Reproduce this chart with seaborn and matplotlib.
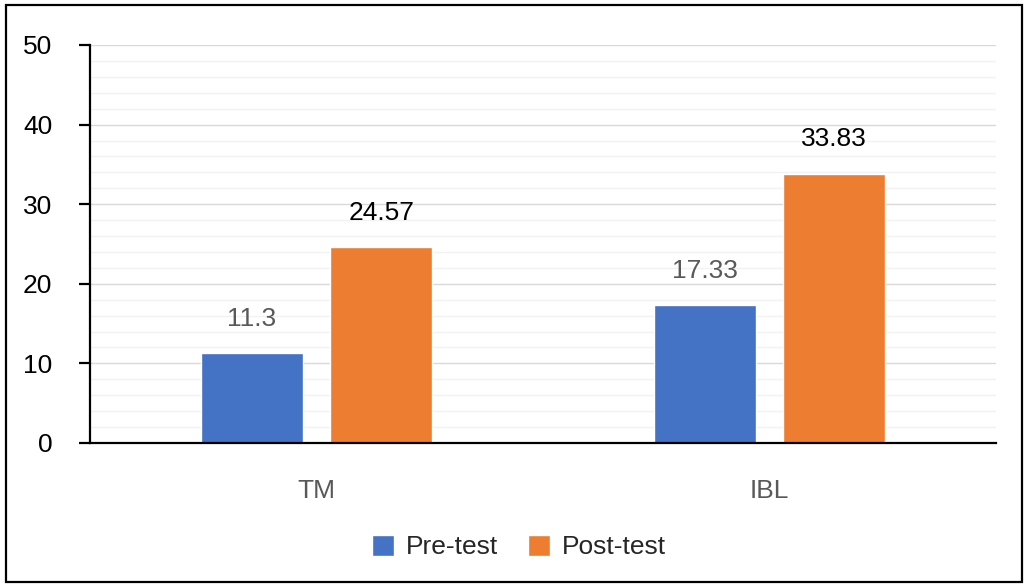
import matplotlib
matplotlib.use("Agg")
import matplotlib.pyplot as plt
from matplotlib.patches import Rectangle
import seaborn as sns
import pandas as pd

# Scores by teaching method
groups = ["TM", "IBL"]
tests = ["Pre-test", "Post-test"]
pre_scores = [11.3, 17.33]
post_scores = [24.57, 33.83]
y_ticks = [0, 10, 20, 30, 40, 50]

df = pd.DataFrame({
    "group": groups * 2,
    "test": [tests[0]] * 2 + [tests[1]] * 2,
    "score": pre_scores + post_scores,
})

sns.set_theme(style="white")
plt.rcParams["font.family"] = ["Liberation Sans", "DejaVu Sans"]

W, H = 1025, 586
FS = 19
fig = plt.figure(figsize=(W / 100, H / 100), dpi=100)
ax = fig.add_axes([90 / W, 1 - 443 / H, (996 - 90) / W, (443 - 45) / H])

palette = {"Pre-test": "#4472C4", "Post-test": "#ED7D31"}
sns.barplot(data=df, x="group", y="score", hue="test", order=groups,
            hue_order=tests, palette=palette, width=0.572, gap=0.21,
            saturation=1, ax=ax, legend=True)

ax.set_ylim(0, 50)
ax.set_xlim(-0.5, 1.5)
ax.set_yticks(y_ticks)
ax.set_yticks(range(0, 51, 2), minor=True)
ax.grid(axis="y", which="major", color="#d9d9d9", linewidth=1.0)
ax.grid(axis="y", which="minor", color="#f2f2f2", linewidth=1.0)
ax.set_axisbelow(True)

for side in ["top", "right"]:
    ax.spines[side].set_visible(False)
ax.spines["left"].set_color("black")
ax.spines["left"].set_linewidth(1.6)
ax.spines["bottom"].set_color("black")
ax.spines["bottom"].set_linewidth(1.6)

ax.tick_params(axis="y", which="major", direction="out", length=8, width=1.6,
               color="black", left=True, labelsize=FS, labelcolor="black", pad=19)
ax.tick_params(axis="y", which="minor", length=0)
ax.tick_params(axis="x", length=0, labelsize=FS, labelcolor="#595959", pad=26)
ax.set_xlabel("")
ax.set_ylabel("")

label_colors = ["#595959", "black"]
for cont, color in zip(ax.containers, label_colors):
    ax.bar_label(cont, labels=[f"{b.get_height():g}" for b in cont],
                 padding=16, fontsize=FS, color=color)

handles, labels = ax.get_legend_handles_labels()
ax.legend(handles, labels, loc="center", bbox_to_anchor=(519 / W, 1 - 547 / H),
          bbox_transform=fig.transFigure, ncol=2, frameon=False, fontsize=FS,
          handlelength=0.85, handleheight=0.85, handletextpad=0.45,
          columnspacing=1.1)

fig.patches.append(Rectangle((6 / W, 4 / H), (1016) / W, (577) / H,
                             transform=fig.transFigure, fill=False,
                             edgecolor="black", linewidth=1.6))

fig.savefig("out.png", dpi=100)
